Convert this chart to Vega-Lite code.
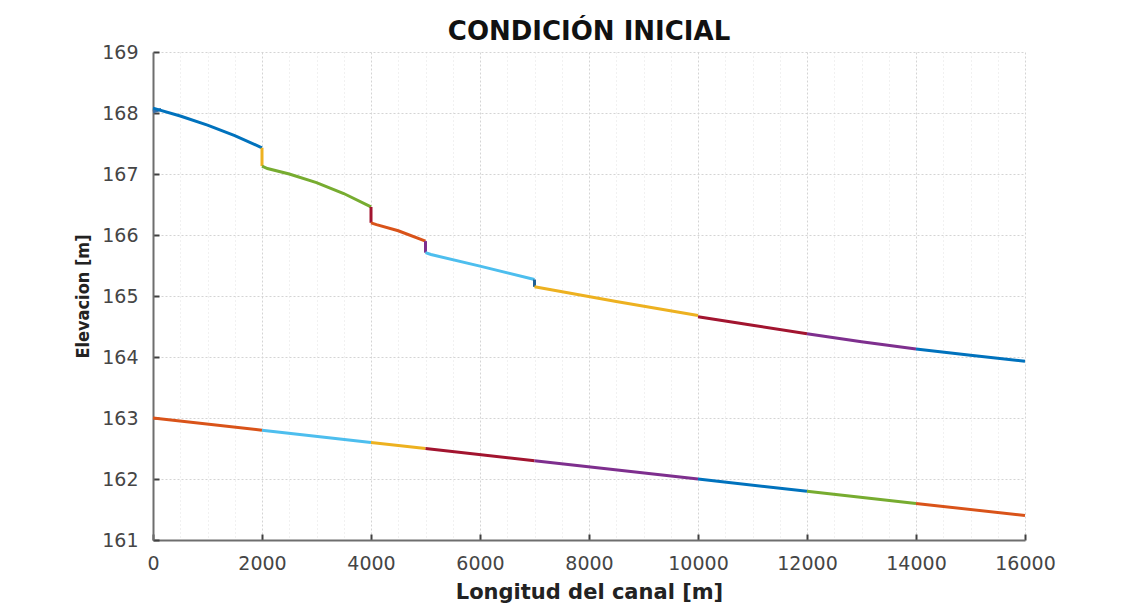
{
  "$schema": "https://vega.github.io/schema/vega-lite/v6.json",
  "width": 872,
  "height": 488,
  "autosize": "none",
  "padding": {"left": 153, "top": 52, "right": 96, "bottom": 65},
  "background": "white",
  "title": {"text": "CONDICIÓN INICIAL", "font": "DejaVu Sans", "fontSize": 26, "fontWeight": "bold", "color": "#111", "offset": -2, "anchor": "middle"},
  "config": {"view": {"stroke": null}},
  "data": {"values": [
    {"seg": "w00", "k": 0, "x": 0, "y": 168.02},
    {"seg": "w00", "k": 1, "x": 150, "y": 168.06},
    {"seg": "w01", "k": 0, "x": 0, "y": 168.08},
    {"seg": "w01", "k": 1, "x": 500, "y": 167.95},
    {"seg": "w01", "k": 2, "x": 1000, "y": 167.8},
    {"seg": "w01", "k": 3, "x": 1500, "y": 167.63},
    {"seg": "w01", "k": 4, "x": 2000, "y": 167.43},
    {"seg": "w02", "k": 0, "x": 2000, "y": 167.43},
    {"seg": "w02", "k": 1, "x": 2000, "y": 167.13},
    {"seg": "w03", "k": 0, "x": 2000, "y": 167.13},
    {"seg": "w03", "k": 1, "x": 2100, "y": 167.09},
    {"seg": "w03", "k": 2, "x": 2500, "y": 167.0},
    {"seg": "w03", "k": 3, "x": 3000, "y": 166.86},
    {"seg": "w03", "k": 4, "x": 3500, "y": 166.68},
    {"seg": "w03", "k": 5, "x": 4000, "y": 166.46},
    {"seg": "w04", "k": 0, "x": 4000, "y": 166.46},
    {"seg": "w04", "k": 1, "x": 4000, "y": 166.2},
    {"seg": "w05", "k": 0, "x": 4000, "y": 166.2},
    {"seg": "w05", "k": 1, "x": 4100, "y": 166.17},
    {"seg": "w05", "k": 2, "x": 4500, "y": 166.07},
    {"seg": "w05", "k": 3, "x": 5000, "y": 165.9},
    {"seg": "w06", "k": 0, "x": 5000, "y": 165.9},
    {"seg": "w06", "k": 1, "x": 5000, "y": 165.71},
    {"seg": "w07", "k": 0, "x": 5000, "y": 165.71},
    {"seg": "w07", "k": 1, "x": 5100, "y": 165.68},
    {"seg": "w07", "k": 2, "x": 6000, "y": 165.49},
    {"seg": "w07", "k": 3, "x": 7000, "y": 165.27},
    {"seg": "w08", "k": 0, "x": 7000, "y": 165.27},
    {"seg": "w08", "k": 1, "x": 7000, "y": 165.15},
    {"seg": "w09", "k": 0, "x": 7000, "y": 165.15},
    {"seg": "w09", "k": 1, "x": 8500, "y": 164.91},
    {"seg": "w09", "k": 2, "x": 10000, "y": 164.68},
    {"seg": "w10", "k": 0, "x": 10000, "y": 164.66},
    {"seg": "w10", "k": 1, "x": 11000, "y": 164.52},
    {"seg": "w10", "k": 2, "x": 12000, "y": 164.38},
    {"seg": "w11", "k": 0, "x": 12000, "y": 164.38},
    {"seg": "w11", "k": 1, "x": 13000, "y": 164.25},
    {"seg": "w11", "k": 2, "x": 14000, "y": 164.13},
    {"seg": "w12", "k": 0, "x": 14000, "y": 164.13},
    {"seg": "w12", "k": 1, "x": 15000, "y": 164.03},
    {"seg": "w12", "k": 2, "x": 16000, "y": 163.93},
    {"seg": "b1", "k": 0, "x": 0, "y": 163.0},
    {"seg": "b1", "k": 1, "x": 2000, "y": 162.8},
    {"seg": "b2", "k": 0, "x": 2000, "y": 162.8},
    {"seg": "b2", "k": 1, "x": 4000, "y": 162.6},
    {"seg": "b3", "k": 0, "x": 4000, "y": 162.6},
    {"seg": "b3", "k": 1, "x": 5000, "y": 162.5},
    {"seg": "b4", "k": 0, "x": 5000, "y": 162.5},
    {"seg": "b4", "k": 1, "x": 7000, "y": 162.3},
    {"seg": "b5", "k": 0, "x": 7000, "y": 162.3},
    {"seg": "b5", "k": 1, "x": 10000, "y": 162.0},
    {"seg": "b6", "k": 0, "x": 10000, "y": 162.0},
    {"seg": "b6", "k": 1, "x": 12000, "y": 161.8},
    {"seg": "b7", "k": 0, "x": 12000, "y": 161.8},
    {"seg": "b7", "k": 1, "x": 14000, "y": 161.6},
    {"seg": "b8", "k": 0, "x": 14000, "y": 161.6},
    {"seg": "b8", "k": 1, "x": 16000, "y": 161.4}
  ]},
  "mark": {"type": "line", "strokeWidth": 3, "clip": false},
  "encoding": {
    "x": {
      "field": "x", "type": "quantitative",
      "scale": {"domain": [0, 16000], "nice": false, "zero": false},
      "axis": {
        "title": "Longitud del canal [m]",
        "values": [0,500,1000,1500,2000,2500,3000,3500,4000,4500,5000,5500,6000,6500,7000,7500,8000,8500,9000,9500,10000,10500,11000,11500,12000,12500,13000,13500,14000,14500,15000,15500,16000],
        "format": "d",
        "labelExpr": "datum.value % 2000 === 0 ? datum.label : ''",
        "labelFont": "DejaVu Sans", "labelFontSize": 19, "labelColor": "#454545",
        "labelPadding": 20, "labelFlush": false,
        "tickSize": -6, "tickWidth": 2, "tickColor": "#404040",
        "tickOpacity": {"condition": {"test": "datum.value % 2000 === 0", "value": 1}, "value": 0},
        "domainColor": "#6e6e6e", "domainWidth": 2,
        "grid": true,
        "gridColor": {"condition": {"test": "datum.value % 2000 === 0", "value": "#d4d4d4"}, "value": "#e3e3e3"},
        "gridDash": {"condition": {"test": "datum.value % 2000 === 0", "value": [2, 2]}, "value": [1, 3]},
        "gridWidth": 1,
        "titleFont": "DejaVu Sans", "titleFontSize": 21, "titleFontWeight": "bold", "titleColor": "#222", "titlePadding": 8
      }
    },
    "y": {
      "field": "y", "type": "quantitative",
      "scale": {"domain": [161, 169], "nice": false, "zero": false},
      "axis": {
        "title": "Elevacion [m]",
        "values": [161,161.25,161.5,161.75,162,162.25,162.5,162.75,163,163.25,163.5,163.75,164,164.25,164.5,164.75,165,165.25,165.5,165.75,166,166.25,166.5,166.75,167,167.25,167.5,167.75,168,168.25,168.5,168.75,169],
        "format": "d",
        "labelExpr": "datum.value % 1 === 0 ? datum.label : ''",
        "labelFont": "DejaVu Sans", "labelFontSize": 19, "labelColor": "#454545",
        "labelPadding": 21, "labelFlush": false,
        "tickSize": -6, "tickWidth": 2, "tickColor": "#404040",
        "tickOpacity": {"condition": {"test": "datum.value % 1 === 0", "value": 1}, "value": 0},
        "domainColor": "#6e6e6e", "domainWidth": 2,
        "grid": true,
        "gridColor": {"condition": {"test": "datum.value % 1 === 0", "value": "#d4d4d4"}, "value": "#e3e3e3"},
        "gridDash": {"condition": {"test": "datum.value % 1 === 0", "value": [2, 2]}, "value": [1, 3]},
        "gridWidth": 1,
        "titleFont": "DejaVu Sans Condensed, Liberation Sans", "titleFontSize": 18, "titleFontWeight": "bold", "titleColor": "#222", "titlePadding": 9
      }
    },
    "color": {
      "field": "seg", "type": "nominal", "legend": null,
      "scale": {
        "domain": ["w00","w01","w02","w03","w04","w05","w06","w07","w08","w09","w10","w11","w12","b1","b2","b3","b4","b5","b6","b7","b8"],
        "range": ["#3b6ea5","#0072BD","#EDB120","#77AC30","#A2142F","#D95319","#7E2F8E","#4DBEEE","#1f5f95","#EDB120","#A2142F","#7E2F8E","#0072BD","#D95319","#4DBEEE","#EDB120","#A2142F","#7E2F8E","#0072BD","#77AC30","#D95319"]
      }
    },
    "detail": {"field": "seg"},
    "order": {"field": "k", "type": "quantitative"}
  }
}
